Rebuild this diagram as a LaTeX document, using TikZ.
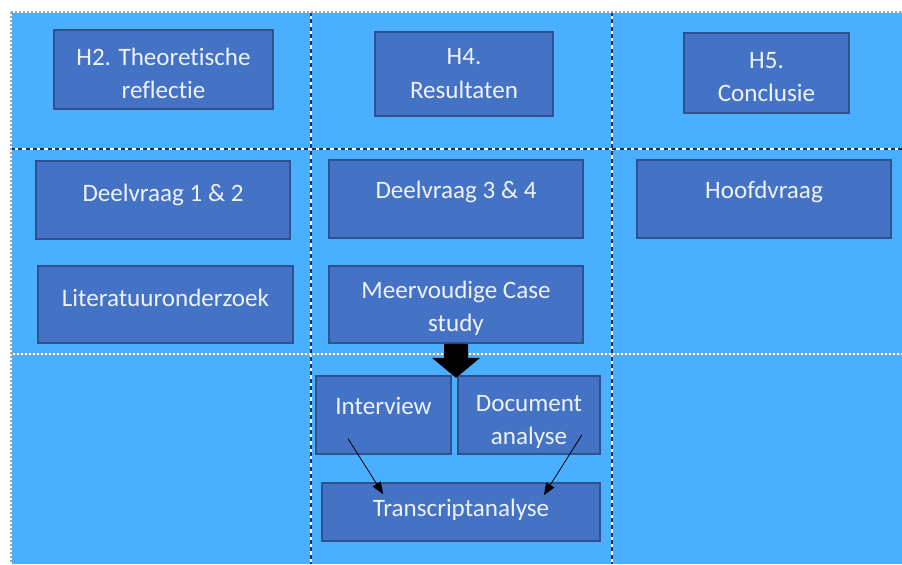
\documentclass[tikz,border=0pt]{standalone}
\usepackage{fontspec}
\setmainfont{Carlito}[Ligatures=CommonOff]
\usetikzlibrary{arrows.meta}
\definecolor{veld}{RGB}{75,175,255}
\definecolor{blok}{RGB}{68,114,196}
\definecolor{rand}{RGB}{47,82,143}
\definecolor{tekst}{RGB}{238,242,250}
\definecolor{streep}{RGB}{25,50,90}
\newcommand{\hoger}[2]{\raisebox{#1}[\height][\depth]{#2}}
\newcommand{\tweeregels}[3]{\hoger{#1}{\begin{tabular}{@{}c@{}}#2\\#3\end{tabular}}}
\tikzset{
	blokje/.style 2 args={draw=rand, fill=blok, line width=1.3pt, text=tekst, align=center, inner sep=0pt,
		font=\fontsize{18.8}{25}\selectfont, minimum width=#1*0.75pt, minimum height=#2*0.75pt},
	pijltje/.style={-{Triangle[length=9pt,width=7pt]}, line width=0.6pt},
	scheiding/.style={draw=streep, dash pattern=on 3pt off 2.5pt, line width=0.9pt},
	rastertje/.style={draw=gray!70, dash pattern=on 1.5pt off 1.5pt, line width=0.8pt}
}
\begin{document}
\begin{tikzpicture}[x=0.75pt, y=-0.75pt]
	\useasboundingbox (0,0) rectangle (902,564);
	\fill[veld] (11,12) rectangle (902,564);
	\draw[white, line width=0.9pt] (311,12) -- (311,564) (612,12) -- (612,564) (11,149) -- (902,149);
	\draw[scheiding] (311,12) -- (311,564);
	\draw[scheiding] (612,12) -- (612,564);
	\draw[scheiding] (11,149) -- (902,149);
	\draw[white, line width=0.8pt] (11,354) -- (902,354) (11,12) -- (902,12) (11,12) -- (11,564);
	\draw[rastertje] (11,354) -- (902,354);
	\draw[rastertje] (11,12) -- (902,12);
	\draw[rastertje] (11,12) -- (11,564);
	
	\node[blokje={219}{79}] (h2) at (163.5,69.5) {\tweeregels{-4.5pt}{H2. Theoretische}{reflectie}};
	\node[blokje={178}{84}] (h4) at (464,74) {\tweeregels{-0.5pt}{H4.}{Resultaten}};
	\node[blokje={165}{80}] (h5) at (766.5,73) {\tweeregels{-3.75pt}{H5.}{Conclusie}};
	
	\node[blokje={254}{78}] (dv12) at (163,200) {\hoger{3.5pt}{Deelvraag 1 \& 2}};
	\node[blokje={254}{78}] (dv34) at (456,199) {\hoger{5pt}{Deelvraag 3 \& 4}};
	\node[blokje={254}{78}] (hoofd) at (764,199) {\hoger{5pt}{Hoofdvraag}};
	
	\node[blokje={255}{77}] (lit) at (165.5,304.5) {\hoger{5pt}{Literatuuronderzoek}};
	\node[blokje={254}{77}] (case) at (456,304.5) {\tweeregels{-3pt}{Meervoudige Case}{study}};
	
	\node[blokje={135}{78}] (intv) at (383.5,415) {\hoger{6.5pt}{Interview}};
	\node[blokje={142}{78}] (doc) at (529,415) {\tweeregels{-4.5pt}{Document}{analyse}};
	\node[blokje={278}{58}] (trans) at (461,512) {\hoger{2pt}{Transcriptanalyse}};
	
	\fill (case.south) ++(-12,0) -- ++(0,14) -- ++(-12,0) -- ++(24,20) -- ++(24,-20) -- ++(-12,0) -- ++(0,-14) -- cycle;
	\draw[pijltje] ([shift={(33,-16)}]intv.south west) -- ([shift={(62,12)}]trans.north west);
	\draw[pijltje] ([shift={(-19,-20)}]doc.south east) -- ([shift={(-57,13)}]trans.north east);
\end{tikzpicture}
\end{document}
